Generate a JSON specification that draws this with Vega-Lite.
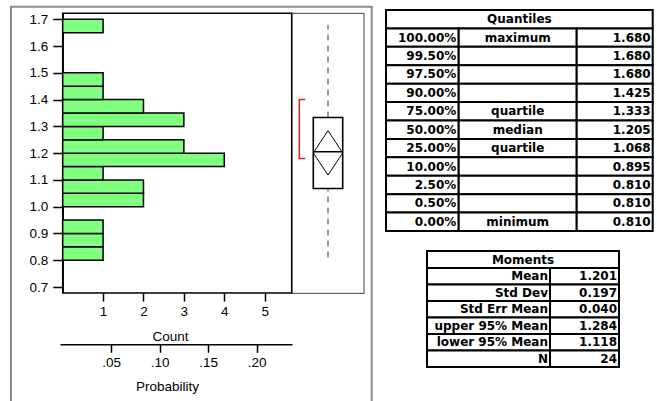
{
  "$schema": "https://vega.github.io/schema/vega-lite/v6.json",
  "width": 657,
  "height": 401,
  "autosize": {"type": "none"},
  "padding": 0,
  "background": "white",
  "config": {
    "view": {"stroke": null},
    "axis": {
      "grid": false,
      "labelFont": "Liberation Sans",
      "titleFont": "Liberation Sans",
      "labelColor": "black",
      "titleColor": "black",
      "domainColor": "black",
      "tickColor": "black",
      "labelFontSize": 13.5,
      "titleFontSize": 13.5,
      "titleFontWeight": "normal",
      "domainWidth": 1.5,
      "tickWidth": 1.5,
      "labelFlush": false,
      "labelOverlap": false
    }
  },
  "datasets": {
    "hist": [
      {"lo": 0.80, "hi": 0.85, "count": 1},
      {"lo": 0.85, "hi": 0.90, "count": 1},
      {"lo": 0.90, "hi": 0.95, "count": 1},
      {"lo": 1.00, "hi": 1.05, "count": 2},
      {"lo": 1.05, "hi": 1.10, "count": 2},
      {"lo": 1.10, "hi": 1.15, "count": 1},
      {"lo": 1.15, "hi": 1.20, "count": 4},
      {"lo": 1.20, "hi": 1.25, "count": 3},
      {"lo": 1.25, "hi": 1.30, "count": 1},
      {"lo": 1.30, "hi": 1.35, "count": 3},
      {"lo": 1.35, "hi": 1.40, "count": 2},
      {"lo": 1.40, "hi": 1.45, "count": 1},
      {"lo": 1.45, "hi": 1.50, "count": 1},
      {"lo": 1.65, "hi": 1.70, "count": 1}
    ],
    "stats": [
      {"variable": "Y", "min": 0.81, "q1": 1.068, "median": 1.205, "q3": 1.333, "max": 1.68, "mean": 1.201}
    ],
    "whiskers": [
      {"variable": "Y", "part": "upper", "lo": 1.333, "hi": 1.68},
      {"variable": "Y", "part": "lower", "lo": 0.81, "hi": 1.068}
    ],
    "diamond": [
      {"k": 0, "pt": "left", "v": 1.201},
      {"k": 1, "pt": "center", "v": 1.284},
      {"k": 2, "pt": "right", "v": 1.201},
      {"k": 3, "pt": "center", "v": 1.118},
      {"k": 4, "pt": "left", "v": 1.201}
    ],
    "shorth": [
      {"k": 0, "pt": "cap", "v": 1.40},
      {"k": 1, "pt": "spine", "v": 1.40},
      {"k": 2, "pt": "spine", "v": 1.18},
      {"k": 3, "pt": "cap", "v": 1.18}
    ],
    "quantiles": [
      {"q": "100.00%", "label": "maximum", "value": 1.680},
      {"q": "99.50%", "label": "", "value": 1.680},
      {"q": "97.50%", "label": "", "value": 1.680},
      {"q": "90.00%", "label": "", "value": 1.425},
      {"q": "75.00%", "label": "quartile", "value": 1.333},
      {"q": "50.00%", "label": "median", "value": 1.205},
      {"q": "25.00%", "label": "quartile", "value": 1.068},
      {"q": "10.00%", "label": "", "value": 0.895},
      {"q": "2.50%", "label": "", "value": 0.810},
      {"q": "0.50%", "label": "", "value": 0.810},
      {"q": "0.00%", "label": "minimum", "value": 0.810}
    ],
    "moments": [
      {"stat": "Mean", "value": "1.201"},
      {"stat": "Std Dev", "value": "0.197"},
      {"stat": "Std Err Mean", "value": "0.040"},
      {"stat": "upper 95% Mean", "value": "1.284"},
      {"stat": "lower 95% Mean", "value": "1.118"},
      {"stat": "N", "value": "24"}
    ],
    "qhead": [{"title": "Quantiles"}],
    "mhead": [{"title": "Moments"}]
  },
  "layer": [
    {
      "data": {"values": [{"frame": "outer"}]},
      "mark": {"type": "rect", "fill": "transparent", "stroke": "#8a8a8a", "strokeWidth": 2},
      "encoding": {
        "x": {"field": "frame", "type": "nominal", "scale": {"range": [11, 371.7], "paddingInner": 0, "paddingOuter": 0}, "axis": null},
        "y": {"field": "frame", "type": "nominal", "scale": {"range": [6.7, 420], "paddingInner": 0, "paddingOuter": 0}, "axis": null}
      }
    },
    {
      "data": {"values": [{"frame": "box panel"}]},
      "mark": {"type": "rect", "fill": "transparent", "stroke": "#666666", "strokeWidth": 1.2},
      "encoding": {
        "x": {"field": "frame", "type": "nominal", "scale": {"range": [291.7, 364], "paddingInner": 0, "paddingOuter": 0}, "axis": null},
        "y": {"field": "frame", "type": "nominal", "scale": {"range": [13.3, 293.3], "paddingInner": 0, "paddingOuter": 0}, "axis": null}
      }
    },
    {
      "data": {"values": [{"frame": "histogram panel"}]},
      "mark": {"type": "rect", "fill": "transparent", "stroke": "black", "strokeWidth": 1.5},
      "encoding": {
        "x": {"field": "frame", "type": "nominal", "scale": {"range": [62.7, 291.7], "paddingInner": 0, "paddingOuter": 0}, "axis": null},
        "y": {"field": "frame", "type": "nominal", "scale": {"range": [13.3, 293], "paddingInner": 0, "paddingOuter": 0}, "axis": null}
      }
    },
    {
      "data": {"name": "hist"},
      "mark": {"type": "rect", "fill": "#80ff80", "stroke": "black", "strokeWidth": 1.5},
      "encoding": {
        "x": {
          "field": "count", "type": "quantitative",
          "scale": {"domain": [0, 5.67], "range": [62.7, 291.7], "nice": false, "zero": true},
          "axis": {"orient": "bottom", "offset": -108, "values": [1, 2, 3, 4, 5], "format": "d", "tickSize": 8, "labelPadding": 3, "title": "Count", "titlePadding": 12, "titleX": 170, "domain": false}
        },
        "y": {
          "field": "lo", "type": "quantitative",
          "scale": {"domain": [0.6776, 1.7224], "range": [293, 13.3], "nice": false, "zero": false},
          "axis": {"orient": "left", "offset": -62.7, "values": [0.7, 0.8, 0.9, 1.0, 1.1, 1.2, 1.3, 1.4, 1.5, 1.6, 1.7], "format": ".1f", "tickSize": 10, "labelPadding": 5, "title": null}
        },
        "y2": {"field": "hi"}
      }
    },
    {
      "data": {"name": "hist"},
      "mark": {"type": "point", "opacity": 0},
      "encoding": {
        "x": {
          "field": "count", "type": "quantitative",
          "scale": {"domain": [-0.067, 5.676], "range": [60, 292], "nice": false, "zero": false},
          "axis": {"orient": "bottom", "offset": -56.7, "values": [1.2, 2.4, 3.6, 4.8], "labelExpr": "substring(format(datum.value / 24, '.2f'), 1)", "tickSize": 8, "labelPadding": 3, "title": "Probability", "titlePadding": 11, "titleX": 167}
        }
      }
    },
    {
      "data": {"name": "whiskers"},
      "mark": {"type": "rule", "color": "#7a7a7a", "strokeWidth": 1.5, "strokeDash": [6, 5]},
      "encoding": {
        "x": {"field": "variable", "type": "nominal", "scale": {"range": [313.3, 342.7], "paddingInner": 0, "paddingOuter": 0}, "axis": null},
        "y": {"field": "lo", "type": "quantitative", "scale": {"domain": [0.6776, 1.7224], "range": [293, 13.3], "nice": false, "zero": false}, "axis": null},
        "y2": {"field": "hi"}
      }
    },
    {
      "data": {"name": "stats"},
      "mark": {"type": "rect", "fill": "transparent", "stroke": "black", "strokeWidth": 1.6},
      "encoding": {
        "x": {"field": "variable", "type": "nominal", "scale": {"range": [313.3, 342.7], "paddingInner": 0, "paddingOuter": 0}, "axis": null},
        "y": {"field": "q1", "type": "quantitative", "scale": {"domain": [0.6776, 1.7224], "range": [293, 13.3], "nice": false, "zero": false}, "axis": null},
        "y2": {"field": "q3"}
      }
    },
    {
      "data": {"name": "stats"},
      "mark": {"type": "rect", "fill": "transparent", "stroke": "black", "strokeWidth": 1.5},
      "encoding": {
        "x": {"field": "variable", "type": "nominal", "scale": {"range": [313.3, 342.7], "paddingInner": 0, "paddingOuter": 0}, "axis": null},
        "y": {"field": "median", "type": "quantitative", "scale": {"domain": [0.6776, 1.7224], "range": [293, 13.3], "nice": false, "zero": false}, "axis": null},
        "y2": {"field": "median"}
      }
    },
    {
      "data": {"name": "diamond"},
      "mark": {"type": "line", "color": "black", "strokeWidth": 1},
      "encoding": {
        "x": {"field": "pt", "type": "nominal", "scale": {"type": "point", "domain": ["left", "center", "right"], "range": [313.3, 342.7], "padding": 0}, "axis": null},
        "y": {"field": "v", "type": "quantitative", "scale": {"domain": [0.6776, 1.7224], "range": [293, 13.3], "nice": false, "zero": false}, "axis": null},
        "order": {"field": "k", "type": "quantitative"}
      }
    },
    {
      "data": {"name": "shorth"},
      "mark": {"type": "line", "color": "#e8201c", "strokeWidth": 1.5},
      "encoding": {
        "x": {"field": "pt", "type": "nominal", "scale": {"type": "point", "domain": ["spine", "cap"], "range": [299.3, 305.3], "padding": 0}, "axis": null},
        "y": {"field": "v", "type": "quantitative", "scale": {"domain": [0.6776, 1.7224], "range": [293, 13.3], "nice": false, "zero": false}, "axis": null},
        "order": {"field": "k", "type": "quantitative"}
      }
    },
    {
      "data": {"name": "qhead"},
      "mark": {"type": "rect", "fill": "white", "stroke": "black", "strokeWidth": 2},
      "encoding": {
        "x": {"field": "title", "type": "nominal", "scale": {"range": [386, 652.7], "paddingInner": 0, "paddingOuter": 0}, "axis": null},
        "y": {"field": "title", "type": "nominal", "scale": {"range": [10, 28.4], "paddingInner": 0, "paddingOuter": 0}, "axis": null}
      }
    },
    {
      "data": {"name": "qhead"},
      "mark": {"type": "text", "color": "black", "font": "DejaVu Sans", "fontWeight": "bold", "fontSize": 12, "baseline": "middle", "align": "center"},
      "encoding": {
        "x": {"field": "title", "type": "nominal", "scale": {"range": [386, 652.7], "paddingInner": 0, "paddingOuter": 0}, "axis": null},
        "y": {"field": "title", "type": "nominal", "scale": {"range": [10, 28.4], "paddingInner": 0, "paddingOuter": 0}, "axis": null},
        "text": {"field": "title"}
      }
    },
    {
      "data": {"name": "quantiles"},
      "transform": [{"fold": ["q", "label", "value"], "as": ["col", "cell"]}, {"filter": "datum.col == 'q'"}],
      "mark": {"type": "rect", "fill": "white", "stroke": "black", "strokeWidth": 2},
      "encoding": {
        "x": {"field": "col", "type": "nominal", "scale": {"range": [386, 458.7], "paddingInner": 0, "paddingOuter": 0}, "axis": null},
        "y": {"field": "q", "type": "nominal", "sort": null, "scale": {"range": [28.4, 231], "paddingInner": 0, "paddingOuter": 0}, "axis": null}
      }
    },
    {
      "data": {"name": "quantiles"},
      "transform": [{"fold": ["q", "label", "value"], "as": ["col", "cell"]}, {"filter": "datum.col == 'q'"}],
      "mark": {"type": "text", "color": "black", "font": "DejaVu Sans", "fontWeight": "bold", "fontSize": 12, "baseline": "middle", "align": "right", "dx": 34},
      "encoding": {
        "x": {"field": "col", "type": "nominal", "scale": {"range": [386, 458.7], "paddingInner": 0, "paddingOuter": 0}, "axis": null},
        "y": {"field": "q", "type": "nominal", "sort": null, "scale": {"range": [28.4, 231], "paddingInner": 0, "paddingOuter": 0}, "axis": null},
        "text": {"field": "cell", "type": "nominal"}
      }
    },
    {
      "data": {"name": "quantiles"},
      "transform": [{"fold": ["q", "label", "value"], "as": ["col", "cell"]}, {"filter": "datum.col == 'label'"}],
      "mark": {"type": "rect", "fill": "white", "stroke": "black", "strokeWidth": 2},
      "encoding": {
        "x": {"field": "col", "type": "nominal", "scale": {"range": [458.7, 576.7], "paddingInner": 0, "paddingOuter": 0}, "axis": null},
        "y": {"field": "q", "type": "nominal", "sort": null, "scale": {"range": [28.4, 231], "paddingInner": 0, "paddingOuter": 0}, "axis": null}
      }
    },
    {
      "data": {"name": "quantiles"},
      "transform": [{"fold": ["q", "label", "value"], "as": ["col", "cell"]}, {"filter": "datum.col == 'label'"}],
      "mark": {"type": "text", "color": "black", "font": "DejaVu Sans", "fontWeight": "bold", "fontSize": 12, "baseline": "middle", "align": "center"},
      "encoding": {
        "x": {"field": "col", "type": "nominal", "scale": {"range": [458.7, 576.7], "paddingInner": 0, "paddingOuter": 0}, "axis": null},
        "y": {"field": "q", "type": "nominal", "sort": null, "scale": {"range": [28.4, 231], "paddingInner": 0, "paddingOuter": 0}, "axis": null},
        "text": {"field": "cell", "type": "nominal"}
      }
    },
    {
      "data": {"name": "quantiles"},
      "transform": [{"fold": ["q", "label", "value"], "as": ["col", "cell"]}, {"filter": "datum.col == 'value'"}],
      "mark": {"type": "rect", "fill": "white", "stroke": "black", "strokeWidth": 2},
      "encoding": {
        "x": {"field": "col", "type": "nominal", "scale": {"range": [576.7, 652.7], "paddingInner": 0, "paddingOuter": 0}, "axis": null},
        "y": {"field": "q", "type": "nominal", "sort": null, "scale": {"range": [28.4, 231], "paddingInner": 0, "paddingOuter": 0}, "axis": null}
      }
    },
    {
      "data": {"name": "quantiles"},
      "transform": [{"fold": ["q", "label", "value"], "as": ["col", "cell"]}, {"filter": "datum.col == 'value'"}],
      "mark": {"type": "text", "color": "black", "font": "DejaVu Sans", "fontWeight": "bold", "fontSize": 12, "baseline": "middle", "align": "right", "dx": 36},
      "encoding": {
        "x": {"field": "col", "type": "nominal", "scale": {"range": [576.7, 652.7], "paddingInner": 0, "paddingOuter": 0}, "axis": null},
        "y": {"field": "q", "type": "nominal", "sort": null, "scale": {"range": [28.4, 231], "paddingInner": 0, "paddingOuter": 0}, "axis": null},
        "text": {"field": "cell", "type": "quantitative", "format": ".3f"}
      }
    },
    {
      "data": {"name": "mhead"},
      "mark": {"type": "rect", "fill": "white", "stroke": "black", "strokeWidth": 2},
      "encoding": {
        "x": {"field": "title", "type": "nominal", "scale": {"range": [427, 619], "paddingInner": 0, "paddingOuter": 0}, "axis": null},
        "y": {"field": "title", "type": "nominal", "scale": {"range": [251, 268], "paddingInner": 0, "paddingOuter": 0}, "axis": null}
      }
    },
    {
      "data": {"name": "mhead"},
      "mark": {"type": "text", "color": "black", "font": "DejaVu Sans", "fontWeight": "bold", "fontSize": 12, "baseline": "middle", "align": "center"},
      "encoding": {
        "x": {"field": "title", "type": "nominal", "scale": {"range": [427, 619], "paddingInner": 0, "paddingOuter": 0}, "axis": null},
        "y": {"field": "title", "type": "nominal", "scale": {"range": [251, 268], "paddingInner": 0, "paddingOuter": 0}, "axis": null},
        "text": {"field": "title"}
      }
    },
    {
      "data": {"name": "moments"},
      "transform": [{"fold": ["stat", "value"], "as": ["col", "cell"]}, {"filter": "datum.col == 'stat'"}],
      "mark": {"type": "rect", "fill": "white", "stroke": "black", "strokeWidth": 2},
      "encoding": {
        "x": {"field": "col", "type": "nominal", "scale": {"range": [427, 550], "paddingInner": 0, "paddingOuter": 0}, "axis": null},
        "y": {"field": "stat", "type": "nominal", "sort": null, "scale": {"range": [268, 367], "paddingInner": 0, "paddingOuter": 0}, "axis": null}
      }
    },
    {
      "data": {"name": "moments"},
      "transform": [{"fold": ["stat", "value"], "as": ["col", "cell"]}, {"filter": "datum.col == 'stat'"}],
      "mark": {"type": "text", "color": "black", "font": "DejaVu Sans", "fontWeight": "bold", "fontSize": 12, "baseline": "middle", "align": "right", "dx": 59.5},
      "encoding": {
        "x": {"field": "col", "type": "nominal", "scale": {"range": [427, 550], "paddingInner": 0, "paddingOuter": 0}, "axis": null},
        "y": {"field": "stat", "type": "nominal", "sort": null, "scale": {"range": [268, 367], "paddingInner": 0, "paddingOuter": 0}, "axis": null},
        "text": {"field": "cell", "type": "nominal"}
      }
    },
    {
      "data": {"name": "moments"},
      "transform": [{"fold": ["stat", "value"], "as": ["col", "cell"]}, {"filter": "datum.col == 'value'"}],
      "mark": {"type": "rect", "fill": "white", "stroke": "black", "strokeWidth": 2},
      "encoding": {
        "x": {"field": "col", "type": "nominal", "scale": {"range": [550, 619], "paddingInner": 0, "paddingOuter": 0}, "axis": null},
        "y": {"field": "stat", "type": "nominal", "sort": null, "scale": {"range": [268, 367], "paddingInner": 0, "paddingOuter": 0}, "axis": null}
      }
    },
    {
      "data": {"name": "moments"},
      "transform": [{"fold": ["stat", "value"], "as": ["col", "cell"]}, {"filter": "datum.col == 'value'"}],
      "mark": {"type": "text", "color": "black", "font": "DejaVu Sans", "fontWeight": "bold", "fontSize": 12, "baseline": "middle", "align": "right", "dx": 32.5},
      "encoding": {
        "x": {"field": "col", "type": "nominal", "scale": {"range": [550, 619], "paddingInner": 0, "paddingOuter": 0}, "axis": null},
        "y": {"field": "stat", "type": "nominal", "sort": null, "scale": {"range": [268, 367], "paddingInner": 0, "paddingOuter": 0}, "axis": null},
        "text": {"field": "cell", "type": "nominal"}
      }
    }
  ],
  "resolve": {"scale": {"x": "independent", "y": "independent"}}
}
